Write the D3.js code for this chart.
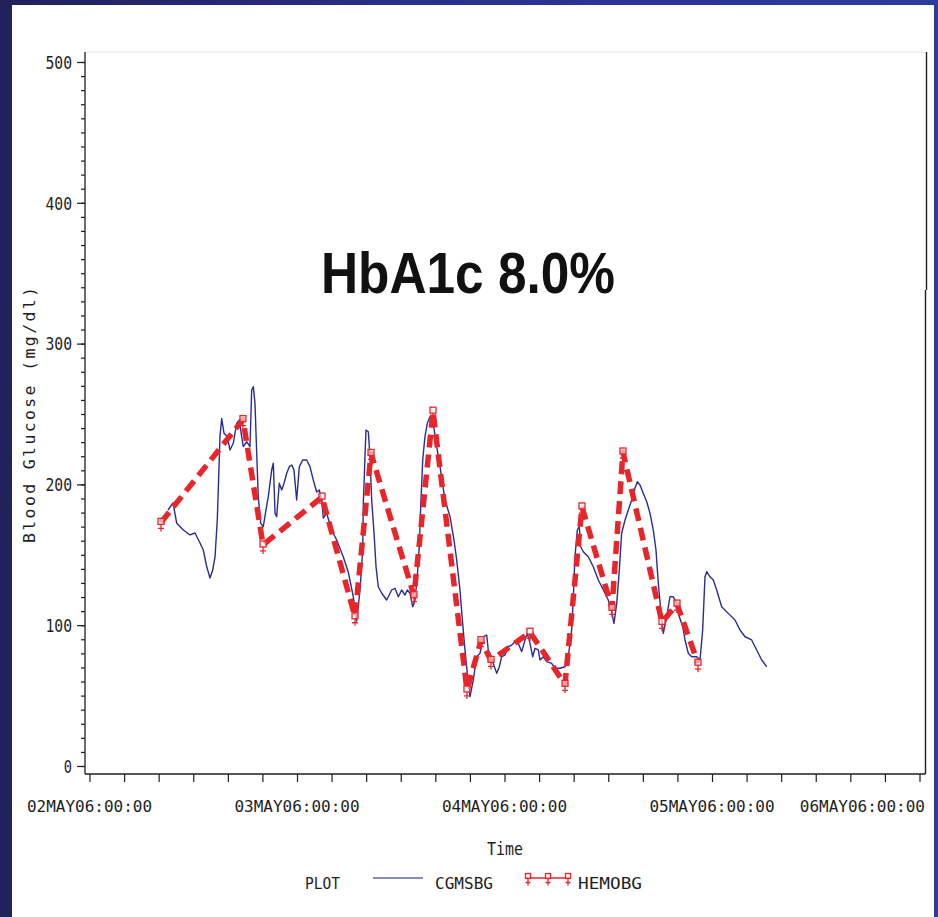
<!DOCTYPE html>
<html>
<head>
<meta charset="utf-8">
<script src="https://cdn.jsdelivr.net/npm/d3@7"></script>
<style>
  html, body { margin: 0; padding: 0; }
  body { width: 938px; height: 917px; overflow: hidden; background: #23235e; }
  svg { display: block; }
</style>
</head>
<body>
<svg id="chart" width="938" height="917"></svg>
<script>
// Glucose readings over four days: continuous monitor (CGMSBG) and meter checks (HEMOBG).
// Times are hours after 02MAY06:00:00, values in mg/dl.
const cgmsHours = [9.08, 9.66, 10.09, 10.85, 11.62, 12.20, 12.78, 13.16, 13.56, 13.94,
  14.25, 14.52, 14.78, 15.09, 15.29, 15.56, 15.94, 16.25, 16.63, 17.03,
  17.33, 17.60, 17.79, 18.18, 18.56, 18.76, 18.95, 19.14, 19.34, 19.52,
  19.80, 20.10, 20.41, 20.68, 21.07, 21.26, 21.46, 21.65, 21.95, 22.23,
  22.50, 22.81, 23.11, 23.39, 23.65, 23.96, 24.27, 24.66, 25.12, 25.50,
  25.88, 26.28, 26.58, 26.86, 27.04, 27.43, 28.01, 28.59, 29.35, 29.93,
  30.51, 30.90, 31.29, 31.60, 31.67, 31.86, 31.98, 32.25, 32.44, 32.64,
  32.91, 33.14, 33.40, 33.80, 34.37, 34.95, 35.33, 35.72, 36.11, 36.49,
  36.76, 37.07, 37.38, 37.65, 37.91, 38.14, 38.31, 38.54, 38.80, 39.07,
  39.38, 39.76, 40.16, 40.54, 41.12, 41.70, 42.16, 42.47, 42.85, 43.16,
  43.43, 43.70, 44.01, 44.39, 44.78, 45.17, 45.55, 45.94, 46.12, 46.32,
  46.70, 47.10, 47.40, 47.67, 48.06, 48.44, 48.83, 49.21, 49.60, 49.99,
  50.37, 50.64, 50.95, 51.26, 51.53, 51.91, 52.10, 52.49, 52.88, 53.46,
  53.84, 54.42, 55.00, 55.38, 55.77, 55.96, 56.15, 56.42, 56.65, 56.81,
  57.11, 57.69, 58.27, 58.85, 59.43, 60.00, 60.40, 60.66, 60.98, 61.28,
  61.55, 61.94, 62.32, 62.71, 63.09, 63.36, 63.67, 64.05, 64.45, 64.83,
  65.21, 65.52, 65.79, 66.07, 66.37, 66.76, 67.14, 67.52, 67.92, 68.22,
  68.61, 68.88, 69.26, 69.65, 70.23, 70.61, 70.92, 71.19, 71.39, 71.77,
  72.15, 72.54, 73.12, 73.88, 74.66, 75.24, 75.82, 76.59, 77.17, 77.75,
  78.32];
const cgmsValues = [181.8, 186.8, 172.4, 167.6, 164.1, 165.5, 158.4, 153.4, 141.5, 133.5,
  139.2, 148.6, 174.7, 233.9, 246.9, 236.3, 233.9, 224.4, 229.2, 243.4,
  245.7, 233.9, 226.8, 230.3, 226.8, 267.0, 269.4, 257.6, 222.1, 191.3,
  172.4, 170.0, 181.8, 191.3, 210.2, 215.0, 179.5, 177.1, 200.8, 196.0,
  200.8, 207.9, 212.6, 213.8, 210.2, 188.9, 212.6, 217.3, 217.3, 212.6,
  203.1, 194.6, 196.0, 188.9, 176.1, 179.5, 167.6, 160.5, 148.6, 137.8,
  120.2, 103.0, 125.0, 153.4, 186.6, 219.7, 238.6, 237.4, 219.7, 188.9,
  165.3, 141.5, 127.3, 122.7, 117.9, 125.0, 126.2, 120.2, 125.0, 121.4,
  125.0, 122.7, 113.1, 117.9, 134.4, 155.7, 184.2, 217.3, 233.9, 243.4,
  248.1, 243.4, 226.8, 212.6, 188.9, 177.1, 160.5, 146.3, 125.0, 101.3,
  82.4, 65.8, 49.2, 61.1, 77.6, 80.0, 91.8, 93.0, 82.4, 80.0,
  72.9, 65.8, 70.5, 77.6, 78.8, 84.7, 85.9, 88.3, 87.1, 81.2,
  89.5, 94.2, 87.1, 77.6, 83.6, 82.4, 75.3, 77.6, 74.1, 72.9,
  69.4, 69.4, 70.5, 77.6, 96.6, 120.2, 148.6, 167.6, 170.0, 155.7,
  152.2, 148.6, 141.5, 132.1, 125.0, 117.9, 109.6, 101.3, 115.5, 139.2,
  165.3, 174.7, 181.8, 188.9, 197.2, 201.9, 199.6, 193.7, 187.7, 179.5,
  167.6, 153.4, 129.8, 110.8, 94.2, 106.0, 120.2, 120.2, 115.5, 106.0,
  98.9, 89.5, 80.0, 77.6, 77.6, 75.3, 96.6, 134.4, 138.0, 134.4,
  132.1, 125.0, 113.1, 108.4, 103.7, 96.6, 91.8, 89.5, 82.4, 75.3,
  70.5];

const hemoHours = [8.27, 17.75, 20.07, 26.89, 30.71, 32.56, 37.53, 39.73, 43.66, 45.28,
  46.44, 50.95, 55.00, 56.96, 60.43, 61.70, 66.22, 67.95, 70.38];
const hemoValues = [173, 246, 157, 191, 106, 222, 121, 252, 54, 89,
  75, 95, 58, 184, 112, 223, 102, 115, 73];

const yTickValues = [0, 100, 200, 300, 400, 500];
const xTickHours = d3.range(0, 97, 4);
const dayLabels = ["02MAY06:00:00", "03MAY06:00:00", "04MAY06:00:00", "05MAY06:00:00", "06MAY06:00:00"];
const titleText = "HbA1c 8.0%";
const yTitle = "Blood Glucose (mg/dl)";
const xTitle = "Time";
const legendTitle = "PLOT";
const seriesNames = ["CGMSBG", "HEMOBG"];

const svg = d3.select("#chart");
const MONO = "'DejaVu Sans Mono', 'Liberation Mono', monospace";
const INK = "#1e1e1e";
const BLUE = "#2a2d92";
const RED = "#e8262a";

// Slide-style frame: navy border around a white panel
const defs = svg.append("defs");
const grad = defs.append("linearGradient").attr("id", "frameGrad")
  .attr("x1", "0").attr("y1", "0").attr("x2", "1").attr("y2", "0");
grad.append("stop").attr("offset", "0%").attr("stop-color", "#21215a");
grad.append("stop").attr("offset", "50%").attr("stop-color", "#2a3290");
grad.append("stop").attr("offset", "100%").attr("stop-color", "#2d3b99");
svg.append("rect").attr("width", 938).attr("height", 917).attr("fill", "url(#frameGrad)");
svg.append("rect").attr("x", 12).attr("y", 5).attr("width", 922).attr("height", 912).attr("fill", "#ffffff");

// Scales
const x = d3.scaleLinear().domain([0, 96]).range([89.5, 919.5]);
const y = d3.scaleLinear().domain([0, 500]).range([766, 62]);

const frameLeft = 85, frameRight = 925.5, frameTop = 52, frameBottom = 774;

// Frame lines
svg.append("line").attr("x1", frameLeft).attr("x2", frameRight)
  .attr("y1", frameTop).attr("y2", frameTop)
  .attr("stroke", "#e4e4e4").attr("stroke-width", 1);
svg.append("path")
  .attr("d", `M${frameRight + 1},${frameTop}V290M${frameRight},290V${frameBottom}`)
  .attr("fill", "none").attr("stroke", INK).attr("stroke-width", 1.4);
svg.append("line").attr("x1", frameLeft).attr("x2", frameLeft)
  .attr("y1", frameTop).attr("y2", frameBottom)
  .attr("stroke", INK).attr("stroke-width", 1.3);
svg.append("line").attr("x1", frameLeft).attr("x2", frameRight)
  .attr("y1", frameBottom).attr("y2", frameBottom)
  .attr("stroke", INK).attr("stroke-width", 1.6);

// Y axis: minor ticks every 10, major ticks with labels every 100
const yMinor = svg.append("g").attr("transform", `translate(${frameLeft},0)`)
  .call(d3.axisLeft(y).tickValues(d3.range(0, 501, 10)).tickSize(4).tickFormat(""));
const yMajor = svg.append("g").attr("transform", `translate(${frameLeft},0)`)
  .call(d3.axisLeft(y).tickValues(yTickValues).tickSize(8).tickPadding(5).tickFormat(d3.format("d")));
[yMinor, yMajor].forEach(g => {
  g.select(".domain").remove();
  g.selectAll(".tick line").attr("stroke", INK).attr("stroke-width", 1.2);
});
yMajor.selectAll(".tick text")
  .attr("font-family", MONO).attr("font-size", 17.5).attr("fill", INK)
  .attr("dy", "0.36em")
  .attr("textLength", d => String(d).length * 9.2 - 1)
  .attr("lengthAdjust", "spacingAndGlyphs");

// X axis: a tick every 4 hours, labels at midnight
const xAxis = svg.append("g").attr("transform", `translate(0,${frameBottom})`)
  .call(d3.axisBottom(x).tickValues(xTickHours).tickSize(8).tickFormat(""));
xAxis.select(".domain").remove();
xAxis.selectAll(".tick line").attr("stroke", INK).attr("stroke-width", 1.2);

const dayHours = dayLabels.map((d, i) => i * 24);
const lastDay = dayLabels.length - 1;
svg.append("g").selectAll("text").data(dayLabels).join("text")
  .attr("x", (d, i) => i === lastDay ? 925 : x(dayHours[i]))
  .attr("y", 812)
  .attr("text-anchor", (d, i) => i === lastDay ? "end" : "middle")
  .attr("font-family", MONO).attr("font-size", 16).attr("fill", INK)
  .text(d => d);

// Axis titles
svg.append("text")
  .attr("transform", "translate(35,415) rotate(-90)")
  .attr("text-anchor", "middle")
  .attr("font-family", MONO).attr("font-size", 16.5).attr("fill", INK)
  .attr("textLength", 256).attr("lengthAdjust", "spacing")
  .text(yTitle);
svg.append("text")
  .attr("x", 505).attr("y", 855).attr("text-anchor", "middle")
  .attr("font-family", MONO).attr("font-size", 17.5).attr("fill", INK)
  .attr("textLength", 36).attr("lengthAdjust", "spacingAndGlyphs")
  .text(xTitle);

// CGMS trace
const cgms = cgmsHours.map((h, i) => [h, cgmsValues[i]]);
const line = d3.line().x(d => x(d[0])).y(d => y(d[1]));
svg.append("path").datum(cgms)
  .attr("d", line)
  .attr("fill", "none").attr("stroke", BLUE).attr("stroke-width", 1.4)
  .attr("stroke-linejoin", "round");

// Meter readings: thick dashed red line with markers
const hemo = hemoHours.map((h, i) => [h, hemoValues[i]]);
svg.append("path").datum(hemo)
  .attr("d", line)
  .attr("fill", "none").attr("stroke", RED).attr("stroke-width", 5.5)
  .attr("stroke-dasharray", "13,7").attr("stroke-linejoin", "round");

function drawMarker(g, cx, cy, size) {
  const s = size;
  g.append("rect").attr("x", cx - s / 2).attr("y", cy - s / 2 - 1)
    .attr("width", s).attr("height", s)
    .attr("fill", "#fff3f3").attr("fill-opacity", 0.6)
    .attr("stroke", RED).attr("stroke-width", 1.3);
  g.append("path")
    .attr("d", `M${cx},${cy + s / 2 - 1}V${cy + s / 2 + 6}M${cx - s / 2},${cy + s / 2 + 3}H${cx + s / 2}`)
    .attr("stroke", RED).attr("stroke-width", 1.3).attr("fill", "none");
}
const markers = svg.append("g");
hemo.forEach(d => drawMarker(markers, x(d[0]), y(d[1]), 6));

// Title inside the plot
svg.append("text")
  .attr("x", 321).attr("y", 293)
  .attr("font-family", "'Liberation Sans', Arial, sans-serif")
  .attr("font-weight", "bold").attr("font-size", 58).attr("fill", "#111")
  .attr("textLength", 294).attr("lengthAdjust", "spacingAndGlyphs")
  .text(titleText);

// Legend
const lg = svg.append("g");
lg.append("text").attr("x", 305).attr("y", 889)
  .attr("font-family", MONO).attr("font-size", 15).attr("fill", INK)
  .attr("textLength", 35).attr("lengthAdjust", "spacingAndGlyphs")
  .text(legendTitle);
lg.append("line").attr("x1", 373).attr("x2", 423).attr("y1", 878).attr("y2", 878)
  .attr("stroke", "#5d64ad").attr("stroke-width", 1.5);
lg.append("text").attr("x", 435).attr("y", 889)
  .attr("font-family", MONO).attr("font-size", 15).attr("fill", INK)
  .attr("textLength", 58).attr("lengthAdjust", "spacingAndGlyphs")
  .text(seriesNames[0]);
lg.append("line").attr("x1", 526).attr("x2", 570).attr("y1", 878).attr("y2", 878)
  .attr("stroke", RED).attr("stroke-width", 1.3);
[528, 548, 568].forEach(cx => drawMarker(lg, cx, 877, 5));
lg.append("text").attr("x", 578).attr("y", 889)
  .attr("font-family", MONO).attr("font-size", 15).attr("fill", INK)
  .attr("textLength", 64).attr("lengthAdjust", "spacingAndGlyphs")
  .text(seriesNames[1]);
</script>
</body>
</html>
